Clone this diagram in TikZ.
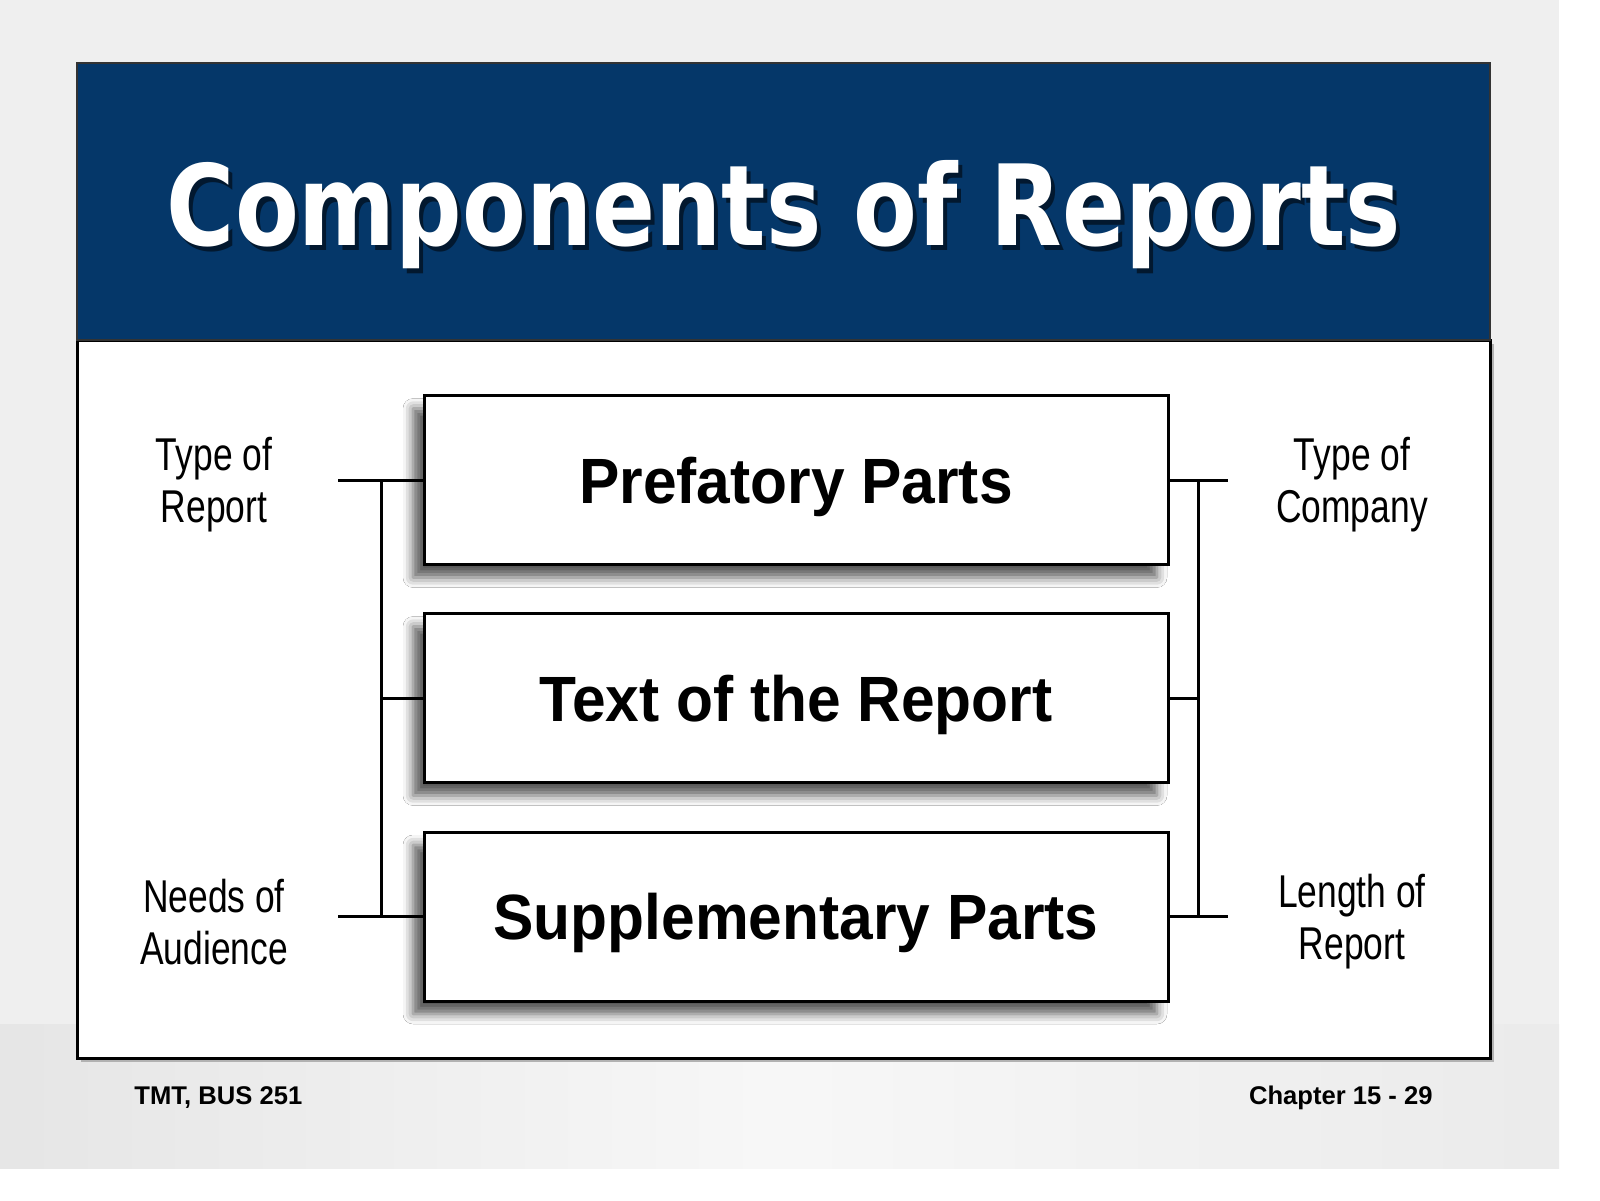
\documentclass[tikz,border=0pt]{standalone}
\usepackage{fontspec}
\setmainfont{Liberation Sans}
\newfontfamily\titlefont[FakeStretch=0.83]{DejaVu Sans}
\newfontfamily\boxfont[FakeStretch=0.945]{Liberation Sans}
\newfontfamily\labelfont[FakeStretch=0.77]{Liberation Sans}
\usetikzlibrary{shadows.blur}
\definecolor{navy}{HTML}{053769}
\definecolor{bggray}{HTML}{EFEFEF}
\tikzset{
  partbox/.style={draw=black, line width=1.5pt, fill=white, minimum width=372pt,
    minimum height=84.5pt, inner sep=0pt, text height=23pt, text depth=0pt,
    font=\boxfont\bfseries\fontsize{32}{36}\selectfont,
    blur shadow={shadow xshift=-5.5pt, shadow yshift=-6.5pt, shadow blur radius=5pt, shadow opacity=65}},
  sidelabel/.style={align=center, inner sep=0pt, font=\labelfont\fontsize{23}{26}\selectfont},
  footer/.style={inner sep=0pt, font=\bfseries\fontsize{12.8}{14}\selectfont},
  conn/.style={draw=black, line width=1.5pt}
}
\begin{document}
\begin{tikzpicture}[x=0.5pt,y=-0.5pt]
\useasboundingbox (0,0) rectangle (1600,1200);
% background
\fill[white] (0,0) rectangle (1600,1200);
\fill[bggray] (0,0) rectangle (1559,1168);
\shade[left color=black!10, right color=black!8, middle color=black!3] (0,1024) rectangle (1559,1168);
% panel
\fill[black!30] (81,344) rectangle (1494,1062);
\draw[line width=1.5pt, fill=white] (77,340) rectangle (1490,1058);
\draw[line width=1.2pt, draw=black!80, fill=navy] (77,63) rectangle (1490,340);
% title
\node[anchor=base, text=black, opacity=0.55, font=\titlefont\bfseries\fontsize{56}{60}\selectfont] (titleshadow) at (788,250) {Components of Reports};
\node[anchor=base, text=white, font=\titlefont\bfseries\fontsize{56}{60}\selectfont] (title) at (784,245) {Components of Reports};
% boxes
\node[partbox] (b1) at (796,480) {Prefatory Parts};
\node[partbox] (b2) at (796,698) {Text of the Report};
\node[partbox] (b3) at (796,916.5) {Supplementary Parts};
% left connectors
\coordinate (Lt) at (338,480);
\coordinate (Lb) at (338,916.5);
\coordinate (Ltr1) at (381,480);
\coordinate (Ltr3) at (381,916.5);
\draw[conn] (Lt) -- (b1.west);
\draw[conn] (Lb) -- (b3.west);
\draw[conn] (Ltr1) -- (Ltr3);
\draw[conn] (Ltr1 |- b2.west) -- (b2.west);
% right connectors
\coordinate (Rt) at (1228,480);
\coordinate (Rb) at (1228,916.5);
\coordinate (Rtr1) at (1198,480);
\coordinate (Rtr3) at (1198,916.5);
\draw[conn] (b1.east) -- (Rt);
\draw[conn] (b3.east) -- (Rb);
\draw[conn] (Rtr1) -- (Rtr3);
\draw[conn] (b2.east) -- (Rtr1 |- b2.east);
% side labels
\node[sidelabel] (l1) at (214,485) {Type of\\Report};
\node[sidelabel] (l3) at (214,922) {Needs of\\Audience};
\node[sidelabel] (r1) at (1352,485) {Type of\\Company};
\node[sidelabel] (r3) at (1352,922) {Length of\\Report};
% footers
\node[footer, anchor=base west] (f1) at (134,1104) {TMT, BUS 251};
\node[footer, anchor=base east] (f2) at (1433,1104) {Chapter 15 - 29};
\end{tikzpicture}
\end{document}
